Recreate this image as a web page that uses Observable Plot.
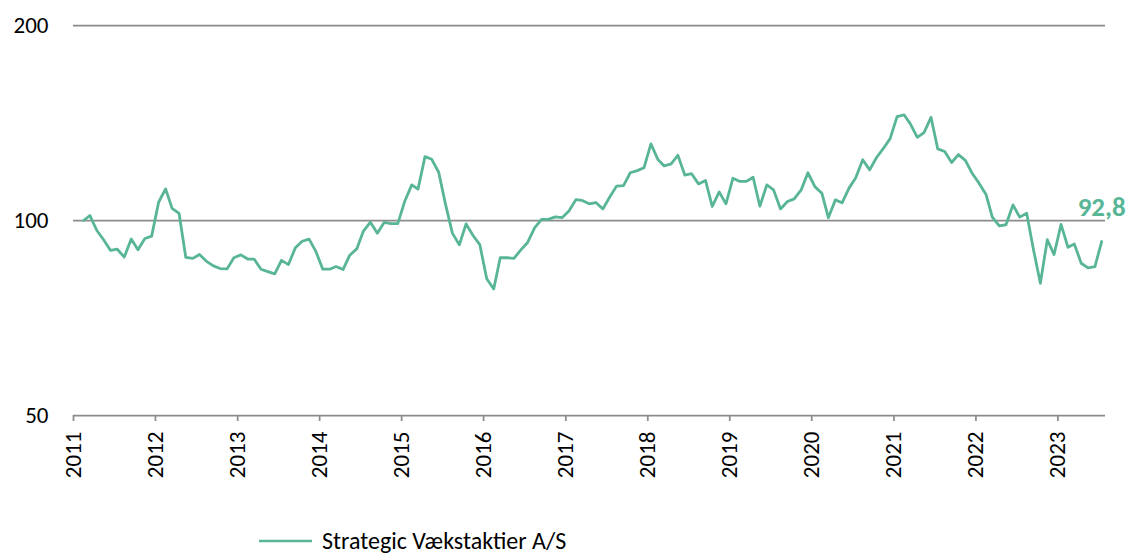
<!DOCTYPE html>
<html>
<head>
<meta charset="utf-8">
<script src="https://cdn.jsdelivr.net/npm/d3@7"></script>
<script src="https://cdn.jsdelivr.net/npm/@observablehq/plot@0.6"></script>
<style>
  html, body { margin: 0; padding: 0; background: #fff; }
  body { width: 1126px; height: 556px; overflow: hidden; font-family: Carlito, Calibri, Lato, sans-serif; }
  #legend { display: flex; align-items: center; height: 22px; margin-top: 0; padding-left: 259px; font-size: 24px; line-height: 1; color: #000; white-space: nowrap; }
  #legend svg { margin-right: 10px; }
</style>
</head>
<body>
<div id="chart"></div>
<div id="legend"></div>
<script>
// Series: Strategic Vækstaktier A/S, indexed (start = 100), monthly Feb 2011 – Jul 2023
const seriesName = "Strategic Vækstaktier A/S";
const firstMonth = new Date(Date.UTC(2011, 1, 1));   // Feb 2011
const endMonth = new Date(Date.UTC(2023, 7, 1));     // exclusive: Aug 2023
const values = [
  100, 101.8, 96.5, 93.4, 89.9, 90.3, 87.8, 93.6, 90.1, 93.8, 94.6,
  106.7, 111.9, 104.4, 102.6, 87.7, 87.4, 88.6, 86.5, 85.1, 84.3, 84.2, 87.6, 88.5,
  87.2, 87.2, 84.1, 83.4, 82.7, 86.8, 85.5, 90.8, 92.9, 93.6, 89.6, 84.1,
  84.1, 84.9, 84.0, 88.4, 90.4, 96.3, 99.4, 95.6, 99.3, 98.9, 98.9, 107.1,
  113.5, 111.8, 125.5, 124.3, 118.7, 106.1, 95.6, 91.7, 98.8, 94.8, 91.8, 81.3,
  78.4, 87.6, 87.6, 87.4, 90.1, 92.5, 97.4, 100.4, 100.4, 101.3, 101.0, 103.4,
  107.7, 107.4, 106.1, 106.6, 104.2, 108.6, 113.0, 113.2, 118.5, 119.4, 120.6, 131.3,
  124.2, 121.4, 122.3, 126.1, 117.5, 118.1, 113.9, 115.3, 105.1, 110.7, 106.1, 116.2,
  114.9, 114.9, 116.6, 105.2, 113.5, 111.5, 104.2, 107.0, 108.0, 111.5, 118.5, 112.8,
  110.2, 101.0, 107.6, 106.5, 112.2, 116.4, 124.1, 119.7, 125.0, 129.2, 133.8, 144.7,
  145.6, 141.0, 134.4, 136.7, 144.3, 129.0, 127.8, 122.9, 126.4, 123.8, 118.3, 114.2,
  109.7, 101.2, 98.1, 98.5, 105.7, 101.2, 102.6, 89.9, 80.0, 93.4, 88.6, 98.6,
  90.9, 92.0, 85.9, 84.5, 84.9, 92.8
];
const yTicks = [50, 100, 200];
const gridValues = [100, 200];
const xStart = new Date(Date.UTC(2011, 0, 1));
const xEnd = new Date(Date.UTC(2023, 7, 1));
const yearTicks = d3.utcYear.range(xStart, new Date(Date.UTC(2024, 0, 1)));

const green = "#58b595";
const gray = "#8c8c8c";
const font = "Carlito, Calibri, Lato, sans-serif";

const months = d3.utcMonth.range(firstMonth, endMonth);
const data = months.map((m, i) => ({ date: d3.utcDay.offset(m, 14), value: values[i] }));
const last = data[data.length - 1];

const chart = Plot.plot({
  width: 1126,
  height: 530,
  marginLeft: 73,
  marginRight: 21,
  marginTop: 25,
  marginBottom: 115,
  style: { fontFamily: font, fontSize: "23px", color: "#000", background: "#fff", overflow: "visible" },
  x: { type: "utc", domain: [xStart, xEnd] },
  y: { type: "log", domain: [50, 200] },
  marks: [
    Plot.ruleY(gridValues, { stroke: gray, strokeWidth: 1.75 }),
    Plot.ruleY([50], { stroke: gray, strokeWidth: 1.75 }),
    Plot.axisY({ ticks: yTicks, tickSize: 0, tickPadding: 25, tickFormat: d => String(d), label: null, fontSize: 23, fill: "#000" }),
    Plot.axisX({ ticks: yearTicks, tickFormat: d3.utcFormat("%Y"), tickSize: 6, tickPadding: 10, tickRotate: -90, label: null, stroke: gray, strokeWidth: 1.75, fontSize: 23, fill: "#000" }),
    Plot.line(data, { x: "date", y: "value", stroke: green, strokeWidth: 2.8, strokeLinejoin: "round" }),
    Plot.text([last], { x: "date", y: "value", text: d => d.value.toFixed(1).replace(".", ","), dy: -34, fill: green, fontWeight: "bold", fontSize: 27, textAnchor: "middle" })
  ]
});
document.getElementById("chart").appendChild(chart);

const legend = document.getElementById("legend");
legend.innerHTML = `<svg width="53" height="6"><line x1="0" y1="3" x2="53" y2="3" stroke="${green}" stroke-width="2.6"/></svg><span>${seriesName}</span>`;
</script>
</body>
</html>
